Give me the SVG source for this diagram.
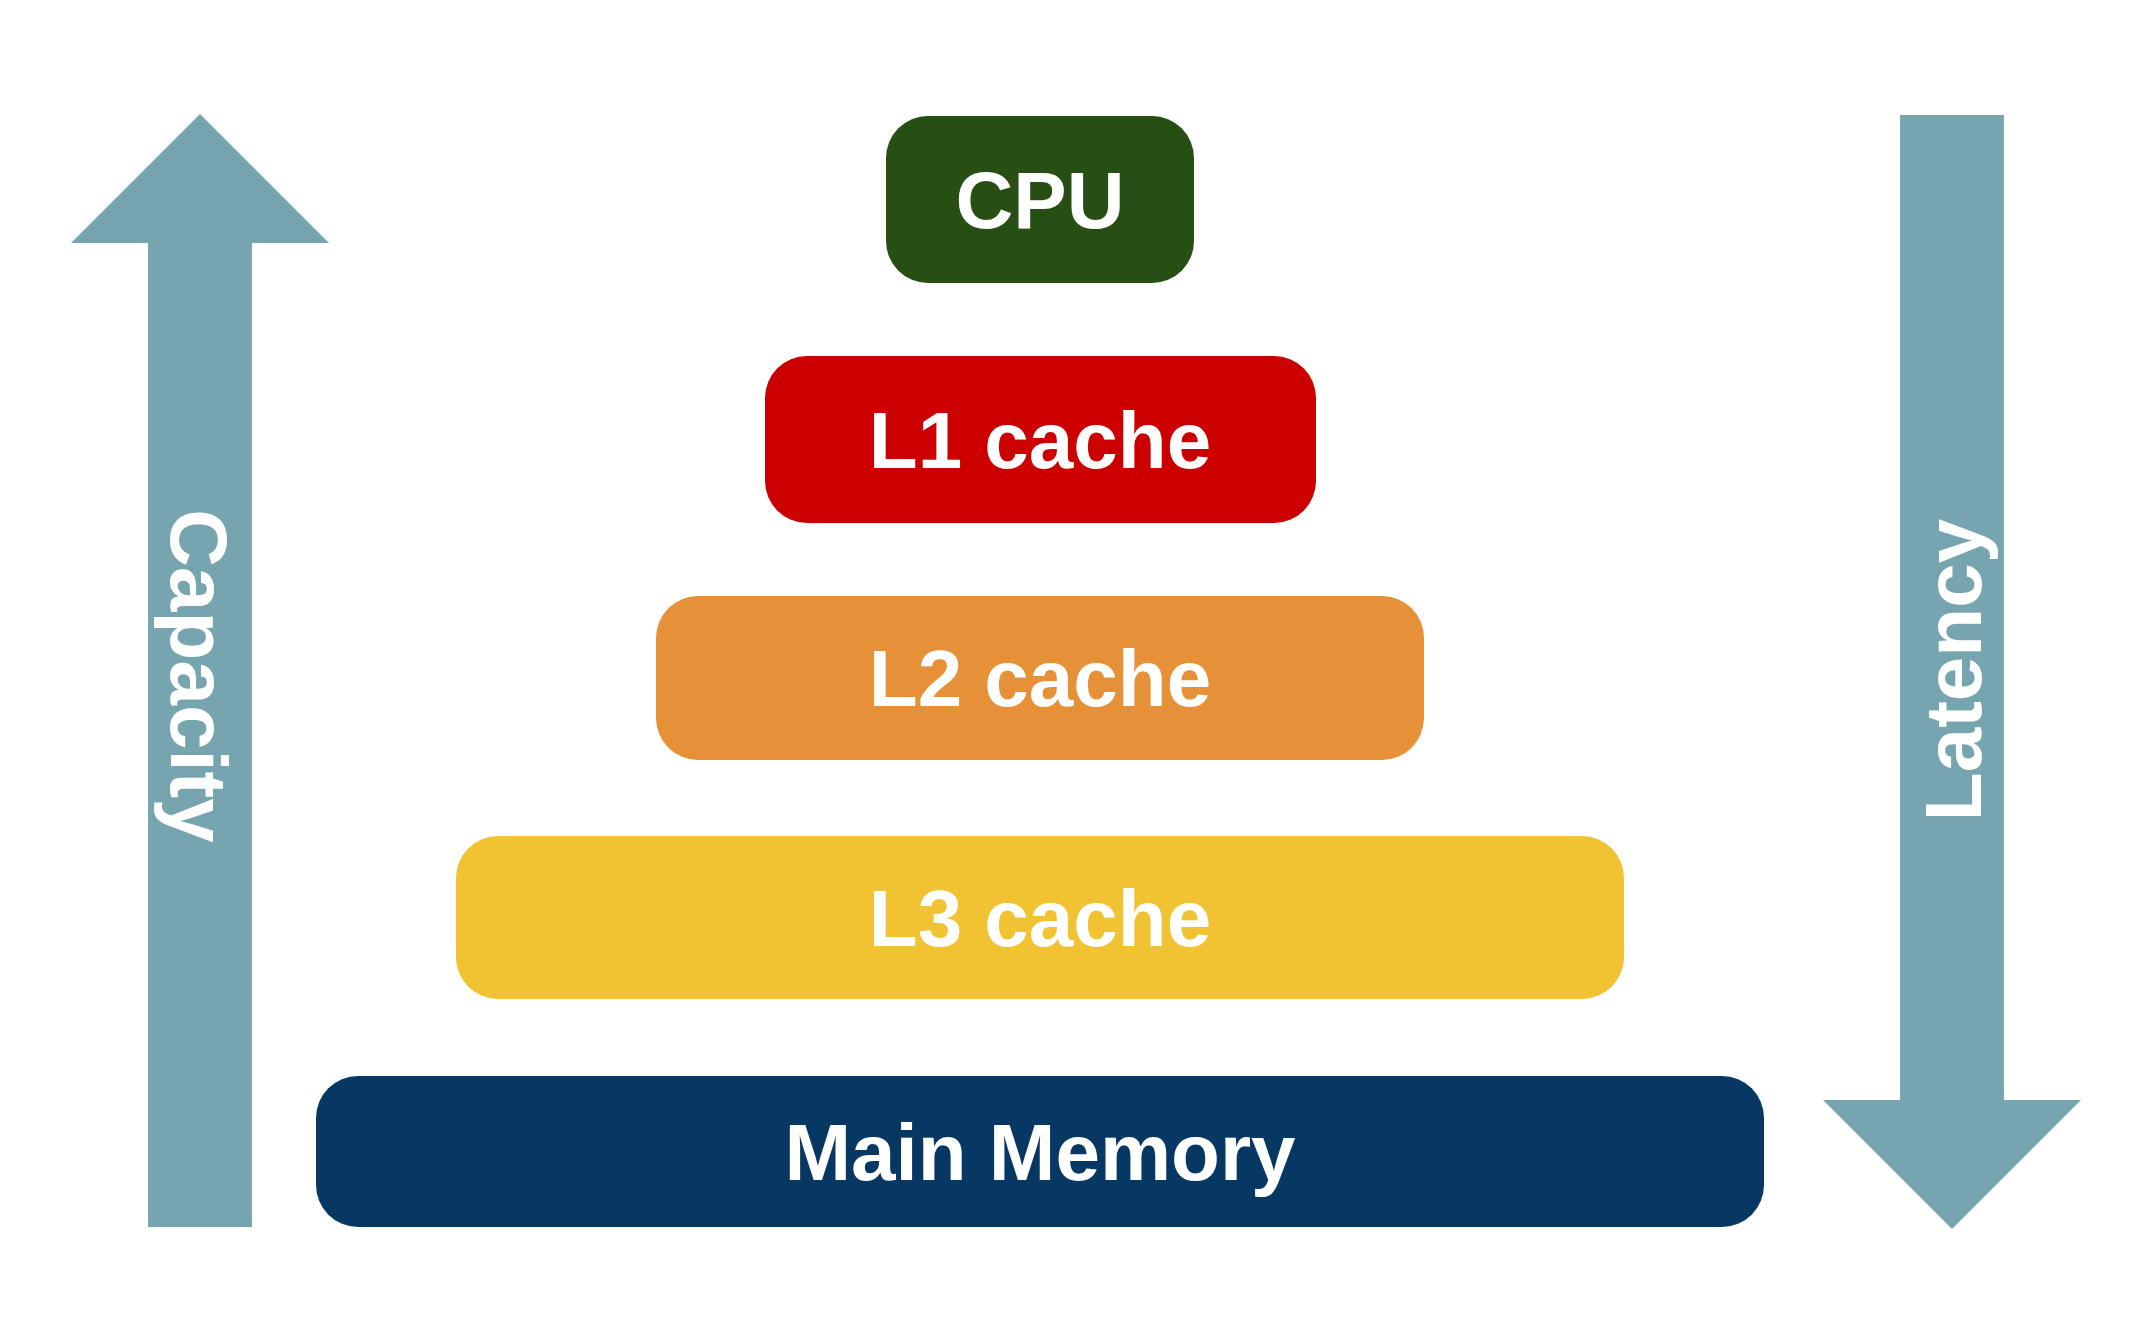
<svg xmlns="http://www.w3.org/2000/svg" width="2152" height="1327" viewBox="0 0 2152 1327">
<style>
.box{stroke:none}
.lbl{font-family:"Liberation Sans",Arial,sans-serif;font-weight:bold;font-size:80px;fill:#ffffff;text-anchor:middle}
.arrow{fill:#76a5af;stroke:none}
</style>
<rect width="2152" height="1327" fill="#ffffff"/>
<g id="connectors">
<g id="capacity-arrow">
<polygon class="arrow" points="200,114 329,243 252,243 252,1227 148,1227 148,243 71,243"/>
<text class="lbl" transform="translate(200,676) rotate(90)" x="0" y="28.6">Capacity</text>
</g>
<g id="latency-arrow">
<polygon class="arrow" points="1900,115 2004,115 2004,1100 2081,1100 1952,1229 1823,1100 1900,1100"/>
<text class="lbl" transform="translate(1952,670) rotate(-90)" x="0" y="28.6">Latency</text>
</g>
</g>
<g id="cpu">
<rect class="box" x="886" y="116" width="308" height="167" rx="42" ry="42" fill="#274e13"/>
<text class="lbl" x="1040" y="228">CPU</text>
</g>
<g id="l1">
<rect class="box" x="765" y="356" width="551" height="167" rx="42" ry="42" fill="#cc0000"/>
<text class="lbl" x="1040" y="468">L1 cache</text>
</g>
<g id="l2">
<rect class="box" x="656" y="596" width="768" height="164" rx="42" ry="42" fill="#e69138"/>
<text class="lbl" x="1040" y="706">L2 cache</text>
</g>
<g id="l3">
<rect class="box" x="456" y="836" width="1168" height="163" rx="42" ry="42" fill="#f1c232"/>
<text class="lbl" x="1040" y="946">L3 cache</text>
</g>
<g id="main-memory">
<rect class="box" x="316" y="1076" width="1448" height="151" rx="42" ry="42" fill="#073763"/>
<text class="lbl" x="1040" y="1180">Main Memory</text>
</g>
</svg>
